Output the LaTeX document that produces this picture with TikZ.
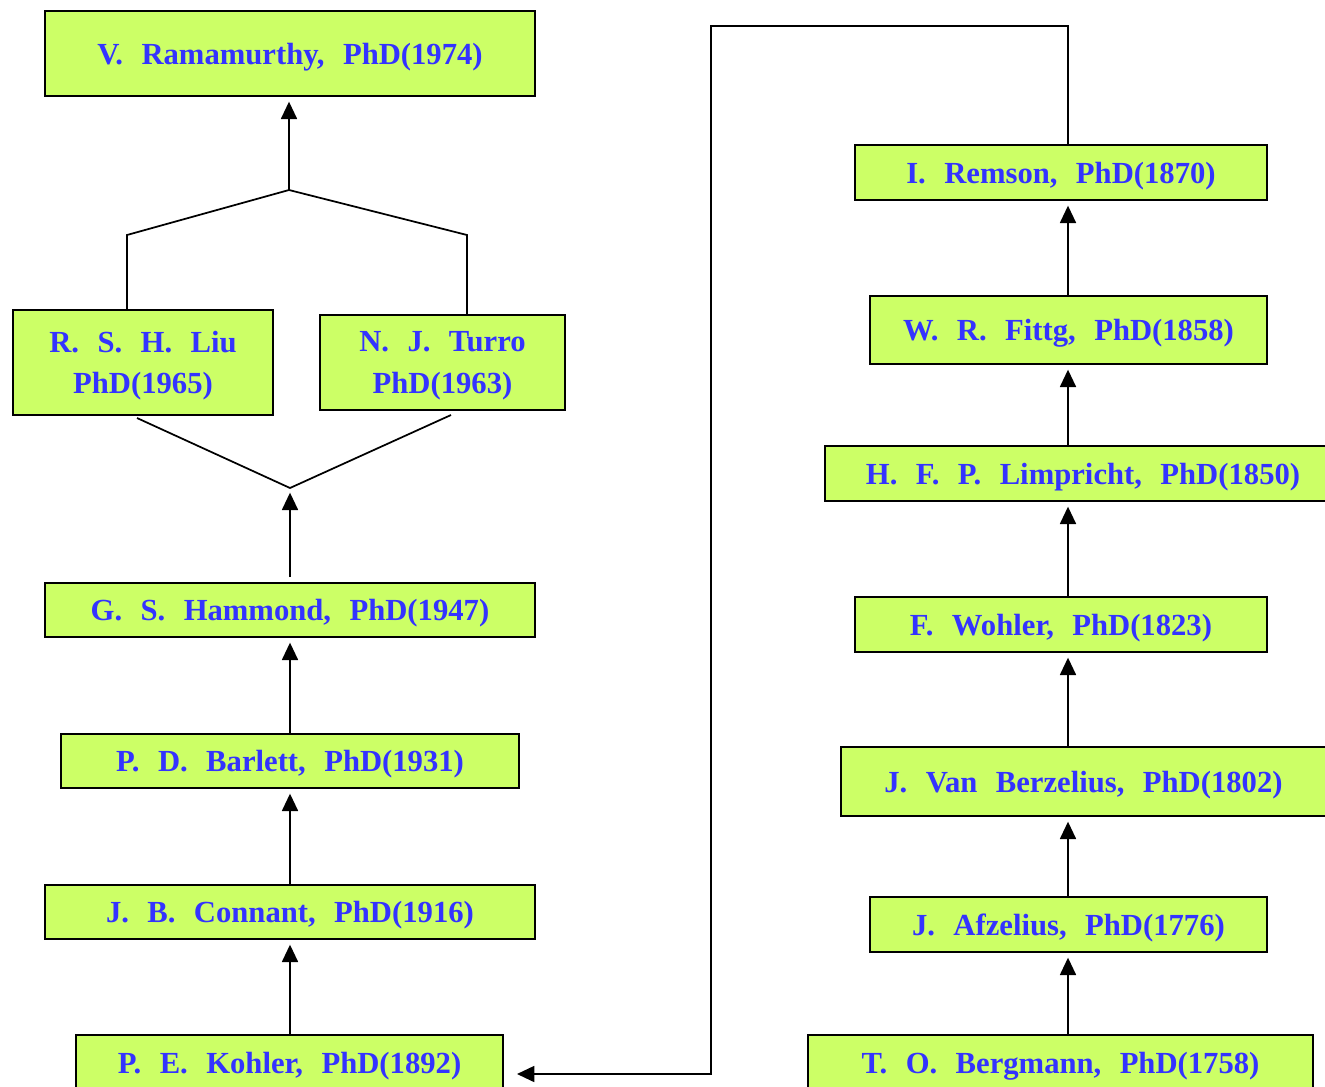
\documentclass[tikz,border=0pt]{standalone}
\usepackage{fontspec}
\setmainfont{Liberation Serif}[WordSpace=2.4]
\usetikzlibrary{arrows.meta,calc}
\definecolor{boxfill}{RGB}{204,255,102}
\definecolor{nametext}{RGB}{51,51,255}
\begin{document}
\begin{tikzpicture}[x=0.75pt,y=-0.75pt,
  person/.style={draw=black,line width=1.5pt,fill=boxfill,text=nametext,
    font=\fontsize{23}{31}\selectfont\bfseries,align=center,inner sep=0pt,
    text depth=0pt},
  link/.style={line width=1.3pt},
  arr/.style={link,-{Triangle[width=12pt,length=13pt]},shorten >=3.5pt}]
\useasboundingbox (0,0) rectangle (1325,1086);
\clip (0,0) rectangle (1325,1086);
% left column
\node[person,minimum width=367.5pt,minimum height=63.75pt] (ram) at (290,53.5) {V. Ramamurthy, PhD(1974)};
\node[person,minimum width=195pt,minimum height=78.75pt] (liu) at (143,362.5) {R. S. H. Liu\\PhD(1965)};
\node[person,minimum width=183.75pt,minimum height=71.25pt] (tur) at (442.5,362.5) {N. J. Turro\\PhD(1963)};
\node[person,minimum width=367.5pt,minimum height=40.5pt] (ham) at (290,610) {G. S. Hammond, PhD(1947)};
\node[person,minimum width=343.5pt,minimum height=40.5pt] (bar) at (290,761) {P. D. Barlett, PhD(1931)};
\node[person,minimum width=367.5pt,minimum height=40.5pt] (con) at (290,912) {J. B. Connant, PhD(1916)};
\node[person,minimum width=320.25pt,minimum height=42pt] (koh) at (289.5,1063) {P. E. Kohler, PhD(1892)};
% right column
\node[person,minimum width=309pt,minimum height=41.25pt] (rem) at (1061,172.5) {I. Remson, PhD(1870)};
\node[person,minimum width=297.75pt,minimum height=51pt] (fit) at (1068.5,330) {W. R. Fittg, PhD(1858)};
\node[person,minimum width=387pt,minimum height=41.25pt] (lim) at (1083,473.5) {H. F. P. Limpricht, PhD(1850)};
\node[person,minimum width=309pt,minimum height=41.25pt] (woh) at (1061,624.5) {F. Wohler, PhD(1823)};
\node[person,minimum width=363.75pt,minimum height=51.75pt] (ber) at (1083.5,781.5) {J. Van Berzelius, PhD(1802)};
\node[person,minimum width=297.75pt,minimum height=41.25pt] (afz) at (1068.5,924.5) {J. Afzelius, PhD(1776)};
\node[person,minimum width=378.75pt,minimum height=42pt] (berg) at (1060.5,1063) {T. O. Bergmann, PhD(1758)};
% helper coordinates
\coordinate (lx) at (290,0);
\coordinate (rx) at (1068,0);
\coordinate (apex) at (289,190);
\coordinate (tl) at (127,235);
\coordinate (tr) at (467,235);
\coordinate (low) at (290,488);
\coordinate (la) at (137,418);
\coordinate (ra) at (451,415);
\coordinate (ctl) at (1068,26);
\coordinate (cbl) at (711,26);
\coordinate (cbb) at (711,1074);
\coordinate (kin) at (505,1074);
% top fork
\draw[link] (liu.north -| tl) -- (tl) -- (apex) -- (tr) -- (tur.north -| tr);
\draw[arr] (apex) -- (ram.south -| apex);
% lower fork
\draw[link] (la) -- (low) -- (ra);
\draw[arr] ($(ham.north -| lx)+(0,-5)$) -- (low);
\draw[arr] (bar.north -| lx) -- (ham.south -| lx);
\draw[arr] (con.north -| lx) -- (bar.south -| lx);
\draw[arr] (koh.north -| lx) -- (con.south -| lx);
% right column
\draw[arr] (fit.north -| rx) -- (rem.south -| rx);
\draw[arr] (lim.north -| rx) -- (fit.south -| rx);
\draw[arr] (woh.north -| rx) -- (lim.south -| rx);
\draw[arr] (ber.north -| rx) -- (woh.south -| rx);
\draw[arr] (afz.north -| rx) -- (ber.south -| rx);
\draw[arr] (berg.north -| rx) -- (afz.south -| rx);
% connection Remson -> Kohler
\draw[arr,shorten >=9pt] (rem.north -| rx) -- (ctl) -- (cbl) -- (cbb) -- (kin);
\end{tikzpicture}
\end{document}
